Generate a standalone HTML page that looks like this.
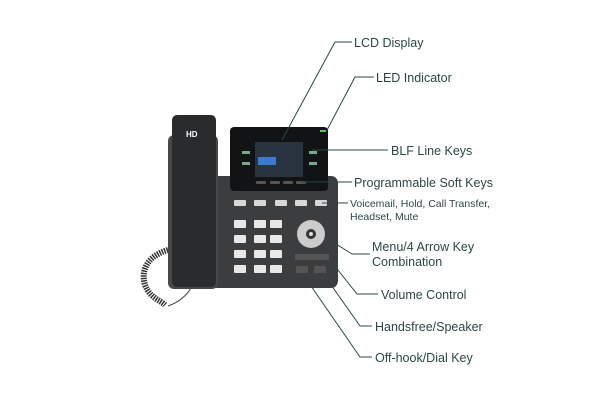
<!DOCTYPE html>
<html><head><meta charset="utf-8"><style>
html,body{margin:0;padding:0;background:#fff;width:600px;height:400px;overflow:hidden}
text{font-family:"Liberation Sans",sans-serif;fill:#2b4747;font-size:12.5px}
</style></head><body>
<svg width="600" height="400" viewBox="0 0 600 400">
<!-- cord -->
<path d="M168,250 C150,255 140,268 145,285 C150,298 160,300 165,305" fill="none" stroke="#333" stroke-width="6" stroke-dasharray="1.5 1"/>
<path d="M168,306 Q185,300 192,286" fill="none" stroke="#444" stroke-width="1"/>
<!-- body -->
<rect x="205" y="176" width="133" height="112" rx="7" fill="#3c3d3f"/>
<rect x="168" y="135" width="50" height="154" rx="6" fill="#47484a"/>
<!-- handset -->
<rect x="172" y="115" width="44" height="172" rx="5" fill="#2a2b2d"/>
<text x="186" y="137" style="fill:#fff;font-size:8px;font-weight:bold">HD</text>
<!-- screen housing -->
<rect x="230" y="127" width="98" height="64" rx="4" fill="#121314"/>
<rect x="255" y="142" width="48" height="35" fill="#2a3340"/>
<rect x="258" y="157" width="18" height="8" fill="#3a7ccc"/>
<rect x="242" y="151" width="8" height="3" fill="#7a8"/><rect x="242" y="162" width="8" height="3" fill="#7a8"/>
<rect x="309" y="151" width="8" height="3" fill="#7a8"/><rect x="309" y="162" width="8" height="3" fill="#7a8"/>
<rect x="320" y="130" width="6" height="2" fill="#5c5"/>
<g fill="#555"><rect x="256" y="181" width="10" height="3" rx="1"/><rect x="270" y="181" width="10" height="3" rx="1"/><rect x="283" y="181" width="10" height="3" rx="1"/><rect x="296" y="181" width="10" height="3" rx="1"/></g>
<!-- function keys -->
<g fill="#d8d8d8"><rect x="234" y="200" width="12" height="6" rx="1"/><rect x="254" y="200" width="12" height="6" rx="1"/><rect x="275" y="200" width="12" height="6" rx="1"/><rect x="295" y="200" width="12" height="6" rx="1"/><rect x="315" y="200" width="12" height="6" rx="1"/></g>
<!-- keypad -->
<g fill="#e8e8e8">
<rect x="234" y="220" width="12" height="8" rx="1"/><rect x="254" y="220" width="12" height="8" rx="1"/><rect x="270" y="220" width="12" height="8" rx="1"/>
<rect x="234" y="235" width="12" height="8" rx="1"/><rect x="254" y="235" width="12" height="8" rx="1"/><rect x="270" y="235" width="12" height="8" rx="1"/>
<rect x="234" y="250" width="12" height="8" rx="1"/><rect x="254" y="250" width="12" height="8" rx="1"/><rect x="270" y="250" width="12" height="8" rx="1"/>
<rect x="234" y="265" width="12" height="8" rx="1"/><rect x="254" y="265" width="12" height="8" rx="1"/><rect x="270" y="265" width="12" height="8" rx="1"/>
</g>
<circle cx="311" cy="234" r="14" fill="#ccc"/><circle cx="311" cy="234" r="5" fill="#333"/><circle cx="311" cy="234" r="2" fill="#ddd"/>
<rect x="295" y="254" width="34" height="6" rx="1" fill="#555"/>
<rect x="296" y="266" width="12" height="7" rx="1" fill="#555"/><rect x="314" y="266" width="12" height="7" rx="1" fill="#555"/>
<!-- leaders -->
<g fill="none" stroke="#2b4747" stroke-width="1">
<polyline points="352,42 335,42 282,140"/>
<polyline points="374,77 355,77 327,130"/>
<polyline points="388,150 312,150"/>
<polyline points="352,182 300,182"/>
<polyline points="348,203 322,203"/>
<polyline points="370,254 352,254 325,237"/>
<polyline points="378,294 357,294 330,260"/>
<polyline points="372,326 360,326 322,272"/>
<polyline points="372,357 360,357 302,273"/>
</g>
<text x="354" y="47">LCD Display</text>
<text x="376" y="82">LED Indicator</text>
<text x="391" y="155">BLF Line Keys</text>
<text x="354" y="187">Programmable Soft Keys</text>
<text x="350" y="207" style="font-size:10.5px">Voicemail, Hold, Call Transfer,</text>
<text x="350" y="220" style="font-size:10.5px">Headset, Mute</text>
<text x="372" y="251">Menu/4 Arrow Key</text>
<text x="372" y="266">Combination</text>
<text x="381" y="299">Volume Control</text>
<text x="375" y="331">Handsfree/Speaker</text>
<text x="375" y="362">Off-hook/Dial Key</text>
</svg>
</body></html>
